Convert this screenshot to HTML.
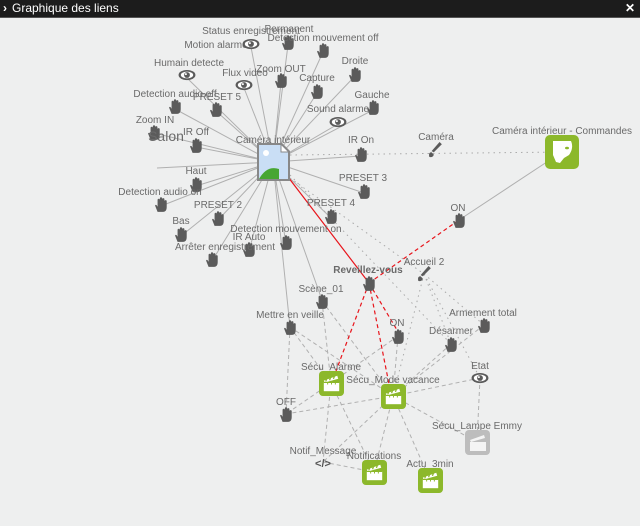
<!DOCTYPE html>
<html><head><meta charset="utf-8"><style>
body{margin:0;width:640px;height:526px;overflow:hidden;background:#eeefef;font-family:"Liberation Sans",sans-serif}
#hd{position:absolute;left:0;top:0;width:640px;height:17px;background:#1c1c1c;border-bottom:1px solid #555;color:#fff;font-size:12px;line-height:16px}
svg{position:absolute;left:0;top:0}
text{font-family:"Liberation Sans",sans-serif;font-size:10px;fill:#6a6a6a;text-anchor:middle}
</style></head><body>
<div id="hd"><span style="position:absolute;left:3px;font-weight:bold">›</span><span style="position:absolute;left:12px">Graphique des liens</span><span style="position:absolute;right:5px;font-weight:bold">✕</span></div>
<svg width="640" height="526" viewBox="0 0 640 526">
<defs>
<symbol id="h" viewBox="0 0 12 14"><path d="M3 13 L1 8 Q0.5 6.5 2 7 L3 8.5 L3 2.5 Q3 1.5 4 1.5 Q5 1.5 5 2.5 L5 6 L5 1.2 Q5 0.2 6 0.2 Q7 0.2 7 1.2 L7 6 L7 2 Q7 1 8 1 Q9 1 9 2 L9 6.5 L9 3.5 Q9 2.7 10 2.7 Q11 2.7 11 3.5 L11 9 Q11 13 8 13 Z" fill="#5b5b5b"/></symbol>
<symbol id="e" viewBox="0 0 16 10"><ellipse cx="8" cy="5" rx="7.5" ry="4.5" fill="#5b5b5b"/><ellipse cx="8" cy="5" rx="5.5" ry="3" fill="#fff"/><circle cx="8" cy="5" r="2.6" fill="#5b5b5b"/><circle cx="7" cy="4.2" r="0.9" fill="#fff"/></symbol>
<symbol id="b" viewBox="0 0 12 14"><path d="M10 0 L12 2 L5 9 L3 8 Z" fill="#5b5b5b"/><path d="M3 9 Q0 9 1 13 Q4 14 5 11 Z" fill="#5b5b5b"/></symbol>
<symbol id="c" viewBox="0 0 26 26"><rect width="26" height="26" rx="4" fill="#8cb82b"/><rect x="5" y="12" width="16" height="9" fill="#fff"/><path d="M5 10 L19 5 L20 8 L6 12 Z" fill="#fff"/><path d="M7 11 L8 8 M11 9.6 L12 6.8 M15 8.2 L16 5.6" stroke="#8cb82b" stroke-width="1.3"/><path d="M5 12 H21 M9 12 V14 M13 12 V14 M17 12 V14" stroke="#8cb82b" stroke-width="1"/></symbol>
</defs>
<g stroke="#b0b0b0" stroke-width="1" fill="none">
<path d="M273 162 L288 45 M273 162 L251 47 M273 162 L323 52 M273 162 L187 78 M273 162 L244 88 M273 162 L281 82 M273 162 L355 76 M273 162 L317 93 M273 162 L175 109 M273 162 L216 111 M273 162 L373 110 M273 162 L338 124 M273 162 L154 133 M273 162 L196 147 M273 162 L361 156 M273 162 L157 168 M273 162 L196 186 M273 162 L364 193 M273 162 L161 206 M273 162 L218 220 M273 162 L331 218 M273 162 L181 236 M273 162 L286 244 M273 162 L249 251 M273 162 L212 261 M273 162 L322 300 M273 162 L290 327 M459 220 L562 152"/>
</g>
<g stroke="#aaa" stroke-width="1" fill="none" stroke-dasharray="1.5 4">
<path d="M290 155 L562 152 M290 178 L424 274 M290 175 L451 344 M424 274 L393 396 M424 274 L484 325 M424 274 L480 378 M424 274 L451 344"/>
</g>
<g stroke="#b0b0b0" stroke-width="1" fill="none" stroke-dasharray="4 3">
<path d="M290 327 L286 414 M290 327 L331 383 M290 327 L393 396 M322 301 L331 383 M322 301 L393 396 M398 336 L331 383 M398 336 L393 396 M451 344 L393 396 M484 325 L393 396 M480 378 L393 396 M480 378 L477 442 M331 383 L286 414 M393 396 L286 414 M331 383 L323 462 M331 383 L374 472 M393 396 L323 462 M393 396 L374 472 M393 396 L430 480 M393 396 L477 442 M323 462 L374 472"/>
</g>
<g stroke="#e8141b" stroke-width="1.2" fill="none">
<path d="M285 173 L369 283"/>
<path stroke-dasharray="4 3" d="M369 283 L459 220 M369 283 L336 371 M369 283 L389 384 M369 283 L397 330"/>
</g>
<g transform="translate(257,143)">
<path d="M0 0 H25 L33 8 V38 H0 Z" fill="#888"/>
<path d="M2 2 H24 L31 9 V36 H2 Z" fill="#c9def5"/>
<path d="M2 36 Q10 22 22 26 L22 36 Z" fill="#47a632"/>
<path d="M24 2 V9 H31" fill="#fff" stroke="#888"/>
<circle cx="9" cy="10" r="3" fill="#fff"/>
</g>
<text x="273" y="143">Caméra intérieur</text>
<g>
<text x="251" y="34">Status enregistrement</text><text x="289" y="32">Permanent</text><use href="#h" x="281" y="35" width="14" height="16"/>
<text x="216" y="48">Motion alarme</text><use href="#e" x="242" y="38" width="18" height="12"/>
<text x="323" y="41">Detection mouvement off</text><use href="#h" x="316" y="43" width="14" height="16"/>
<text x="189" y="66">Humain detecte</text><use href="#e" x="178" y="69" width="18" height="12"/>
<text x="245" y="76">Flux video</text><use href="#e" x="235" y="79" width="18" height="12"/>
<text x="281" y="72">Zoom OUT</text><use href="#h" x="274" y="73" width="14" height="16"/>
<text x="355" y="64">Droite</text><use href="#h" x="348" y="67" width="14" height="16"/>
<text x="317" y="81">Capture</text><use href="#h" x="310" y="84" width="14" height="16"/>
<text x="175" y="97">Detection audio off</text><use href="#h" x="168" y="99" width="14" height="16"/>
<text x="217" y="100">PRESET 5</text><use href="#h" x="209" y="102" width="14" height="16"/>
<text x="372" y="98">Gauche</text><use href="#h" x="366" y="100" width="14" height="16"/>
<text x="338" y="112">Sound alarme</text><use href="#e" x="329" y="116" width="18" height="12"/>
<text x="155" y="123">Zoom IN</text><use href="#h" x="147" y="125" width="14" height="16"/>
<text x="166" y="141" style="font-size:14px">Salon</text>
<text x="196" y="135">IR Off</text><use href="#h" x="189" y="138" width="14" height="16"/>
<text x="361" y="143">IR On</text><use href="#h" x="354" y="147" width="14" height="16"/>
<text x="196" y="174">Haut</text><use href="#h" x="189" y="177" width="14" height="16"/>
<text x="363" y="181">PRESET 3</text><use href="#h" x="357" y="184" width="14" height="16"/>
<text x="160" y="195">Detection audio on</text><use href="#h" x="154" y="197" width="14" height="16"/>
<text x="218" y="208">PRESET 2</text><use href="#h" x="211" y="211" width="14" height="16"/>
<text x="331" y="206">PRESET 4</text><use href="#h" x="324" y="209" width="14" height="16"/>
<text x="181" y="224">Bas</text><use href="#h" x="174" y="227" width="14" height="16"/>
<text x="286" y="232">Detection mouvement on</text><use href="#h" x="279" y="235" width="14" height="16"/>
<text x="249" y="240">IR Auto</text><use href="#h" x="242" y="242" width="14" height="16"/>
<text x="225" y="250">Arrêter enregistrement</text><use href="#h" x="205" y="252" width="14" height="16"/>
<text x="436" y="140">Caméra</text><use href="#b" x="428" y="142" width="14" height="16"/>
<text x="562" y="134">Caméra intérieur - Commandes</text>
<rect x="545" y="135" width="34" height="34" rx="5" fill="#8cb82b"/>
<path d="M553 141 H571 Q574 148 569 155 L564 158 L560 163 L556 162 L553 155 Z" fill="#fff"/><ellipse cx="567" cy="148" rx="2" ry="1.3" fill="#8cb82b"/>
<text x="458" y="211">ON</text><use href="#h" x="452" y="213" width="14" height="16"/>
<text x="368" y="273" style="font-weight:bold">Reveillez-vous</text><use href="#h" x="362" y="276" width="14" height="16"/>
<text x="424" y="265">Accueil 2</text><use href="#b" x="417" y="266" width="14" height="16"/>
<text x="321" y="292">Scène_01</text><use href="#h" x="315" y="294" width="14" height="16"/>
<text x="290" y="318">Mettre en veille</text><use href="#h" x="283" y="320" width="14" height="16"/>
<text x="397" y="326">ON</text><use href="#h" x="391" y="329" width="14" height="16"/>
<text x="451" y="334">Désarmer</text><use href="#h" x="444" y="337" width="14" height="16"/>
<text x="483" y="316">Armement total</text><use href="#h" x="477" y="318" width="14" height="16"/>
<text x="331" y="370">Sécu_Alarme</text><use href="#c" x="319" y="371" width="25" height="25"/>
<text x="393" y="383">Sécu_Mode vacance</text><use href="#c" x="381" y="384" width="25" height="25"/>
<text x="480" y="369">Etat</text><use href="#e" x="471" y="372" width="18" height="12"/>
<text x="286" y="405">OFF</text><use href="#h" x="279" y="407" width="14" height="16"/>
<text x="477" y="429">Sécu_Lampe Emmy</text>
<rect x="465" y="430" width="25" height="25" rx="4" fill="#bdbdbd"/>
<g transform="translate(465,430)"><rect x="5" y="12" width="16" height="9" fill="#f4f4f4"/><path d="M5 10 L19 5 L20 8 L6 12 Z" fill="#f4f4f4"/></g>
<text x="323" y="454">Notif_Message</text><text x="323" y="467" style="font-size:11px;font-weight:bold;fill:#555">&lt;/&gt;</text>
<text x="374" y="459">Notifications</text><use href="#c" x="362" y="460" width="25" height="25"/>
<text x="430" y="467">Actu_3min</text><use href="#c" x="418" y="468" width="25" height="25"/>
</g>
</svg>
</body></html>
